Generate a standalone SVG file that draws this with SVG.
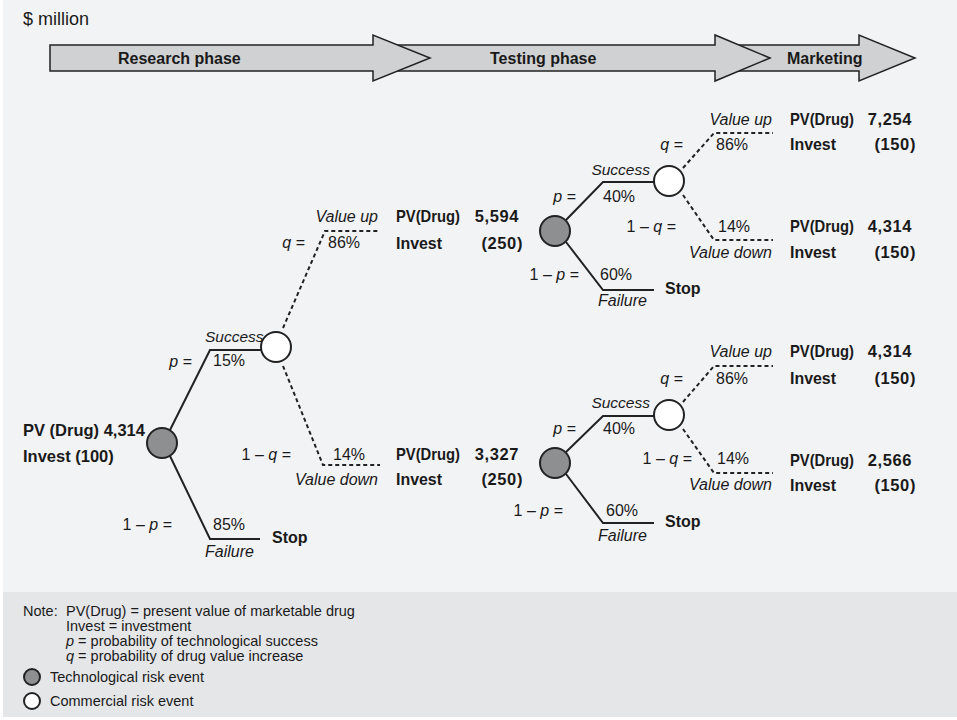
<svg xmlns="http://www.w3.org/2000/svg" width="957" height="720" viewBox="0 0 957 720">
<style>
text{font-family:"Liberation Sans",Arial,sans-serif;fill:#1a1a1a;font-size:16px}
.b{font-weight:bold;font-size:16.5px}
.st{font-weight:bold;font-size:16px}
.h{font-weight:bold;font-size:16px}
.rt{font-weight:bold;font-size:16.5px}
.v{font-weight:bold;font-size:16.5px;letter-spacing:0.6px}
.i{font-style:italic;font-size:16px}
.sc{font-style:italic;font-size:15.5px}
.q{font-size:16px}
.r{text-anchor:end}
.n{font-size:14.5px}
.arr{fill:#d0d1d3;stroke:#222;stroke-width:1.5;stroke-linejoin:miter}
.s{fill:none;stroke:#222;stroke-width:2}
.d{fill:none;stroke:#222;stroke-width:2;stroke-dasharray:4 3}
.tech{fill:#8e8f91;stroke:#222;stroke-width:2}
.com{fill:#fff;stroke:#222;stroke-width:2}
</style>
<rect x="0" y="0" width="957" height="720" fill="#fff"/>
<rect x="3" y="0" width="954" height="592" fill="#f2f3f5"/>
<rect x="3" y="592" width="954" height="125" fill="#e5e6e8"/>
<text x="23" y="25" style="font-size:18px">$ million</text>
<g id="phases">
<polygon class="arr" points="722,45 859,45 859,35 915,58 859,81 859,71 722,71"/>
<polygon class="arr" points="380,45 715,45 715,35 770,58 715,81 715,71 380,71"/>
<polygon class="arr" points="50,45 373,45 373,35 430,58 373,81 373,71 50,71"/>
<text class="h" x="118" y="64">Research phase</text>
<text class="h" x="490" y="64">Testing phase</text>
<text class="h" x="787" y="64">Marketing</text>
</g>
<g id="connectors">
<polyline class="s" points="170,430 210,350 261,350"/>
<polyline class="s" points="170,456 210,539 260,539"/>
<polyline class="d" points="283,328 325,231 380,231"/>
<polyline class="d" points="283,366 323,465 380,465"/>
<polyline class="s" points="566,220 603,182 654,182"/>
<polyline class="s" points="566,242 603,290 654,290"/>
<polyline class="d" points="683,168 714,133 773,133"/>
<polyline class="d" points="683,195 714,240 773,240"/>
<polyline class="s" points="566,452 603,416 654,416"/>
<polyline class="s" points="566,474 603,523 654,523"/>
<polyline class="d" points="683,402 714,366 773,366"/>
<polyline class="d" points="683,429 714,473 773,473"/>
</g>
<g id="root">
<circle class="tech" cx="162" cy="443" r="15"/>
<text class="rt" x="23" y="436">PV (Drug) 4,314</text>
<text class="rt" x="23" y="462">Invest (100)</text>
<text class="sc" x="205" y="342">Success</text>
<text x="213" y="366">15%</text>
<text class="r q" x="192" y="367"><tspan style="font-style:italic">p</tspan> =</text>
<text class="r q" x="172" y="530">1 – <tspan style="font-style:italic">p</tspan> =</text>
<text x="213" y="530">85%</text>
<text class="i" x="205" y="557">Failure</text>
<text class="st" x="272" y="543">Stop</text>
</g>
<g id="c1">
<circle class="com" cx="276" cy="347" r="15"/>
<text class="i r" x="378" y="222">Value up</text>
<text class="r q" x="305" y="248"><tspan style="font-style:italic">q</tspan> =</text>
<text x="328" y="248">86%</text>
<text class="r q" x="291" y="460">1 – <tspan style="font-style:italic">q</tspan> =</text>
<text x="333" y="460">14%</text>
<text class="i r" x="378" y="485">Value down</text>
</g>
<g id="out1">
<text class="b" x="396" y="222" textLength="64" lengthAdjust="spacingAndGlyphs">PV(Drug)</text>
<text class="v r" x="519" y="222">5,594</text>
<text class="b" x="396" y="249" textLength="46" lengthAdjust="spacingAndGlyphs">Invest</text>
<text class="v r" x="523" y="249">(250)</text>
</g>
<g id="out2">
<text class="b" x="396" y="460" textLength="64" lengthAdjust="spacingAndGlyphs">PV(Drug)</text>
<text class="v r" x="519" y="460">3,327</text>
<text class="b" x="396" y="485" textLength="46" lengthAdjust="spacingAndGlyphs">Invest</text>
<text class="v r" x="523" y="485">(250)</text>
</g>
<g id="t2">
<circle class="tech" cx="555" cy="231" r="15"/>
<text class="sc r" x="650" y="175">Success</text>
<text x="603" y="202">40%</text>
<text class="r q" x="576" y="202"><tspan style="font-style:italic">p</tspan> =</text>
<text class="r q" x="579" y="280">1 – <tspan style="font-style:italic">p</tspan> =</text>
<text x="600" y="280">60%</text>
<text class="i" x="598" y="306">Failure</text>
<text class="st" x="665" y="294">Stop</text>
</g>
<g id="c2">
<circle class="com" cx="669" cy="181" r="15"/>
<text class="i r" x="772" y="125">Value up</text>
<text class="r q" x="683" y="150"><tspan style="font-style:italic">q</tspan> =</text>
<text x="716" y="150">86%</text>
<text class="r q" x="676" y="232">1 – <tspan style="font-style:italic">q</tspan> =</text>
<text x="718" y="232">14%</text>
<text class="i r" x="772" y="258">Value down</text>
</g>
<g id="out3">
<text class="b" x="790" y="125" textLength="64" lengthAdjust="spacingAndGlyphs">PV(Drug)</text>
<text class="v r" x="912" y="125">7,254</text>
<text class="b" x="790" y="150" textLength="46" lengthAdjust="spacingAndGlyphs">Invest</text>
<text class="v r" x="916" y="150">(150)</text>
</g>
<g id="out4">
<text class="b" x="790" y="232" textLength="64" lengthAdjust="spacingAndGlyphs">PV(Drug)</text>
<text class="v r" x="912" y="232">4,314</text>
<text class="b" x="790" y="258" textLength="46" lengthAdjust="spacingAndGlyphs">Invest</text>
<text class="v r" x="916" y="258">(150)</text>
</g>
<g id="t3">
<circle class="tech" cx="555" cy="463" r="15"/>
<text class="sc r" x="650" y="408">Success</text>
<text x="603" y="434">40%</text>
<text class="r q" x="576" y="434"><tspan style="font-style:italic">p</tspan> =</text>
<text class="r q" x="563" y="516">1 – <tspan style="font-style:italic">p</tspan> =</text>
<text x="606" y="516">60%</text>
<text class="i" x="598" y="541">Failure</text>
<text class="st" x="665" y="527">Stop</text>
</g>
<g id="c3">
<circle class="com" cx="669" cy="415" r="15"/>
<text class="i r" x="772" y="357">Value up</text>
<text class="r q" x="683" y="384"><tspan style="font-style:italic">q</tspan> =</text>
<text x="716" y="384">86%</text>
<text class="r q" x="692" y="464">1 – <tspan style="font-style:italic">q</tspan> =</text>
<text x="717" y="464">14%</text>
<text class="i r" x="772" y="490">Value down</text>
</g>
<g id="out5">
<text class="b" x="790" y="357" textLength="64" lengthAdjust="spacingAndGlyphs">PV(Drug)</text>
<text class="v r" x="912" y="357">4,314</text>
<text class="b" x="790" y="384" textLength="46" lengthAdjust="spacingAndGlyphs">Invest</text>
<text class="v r" x="916" y="384">(150)</text>
</g>
<g id="out6">
<text class="b" x="790" y="466" textLength="64" lengthAdjust="spacingAndGlyphs">PV(Drug)</text>
<text class="v r" x="912" y="466">2,566</text>
<text class="b" x="790" y="491" textLength="46" lengthAdjust="spacingAndGlyphs">Invest</text>
<text class="v r" x="916" y="491">(150)</text>
</g>
<g id="note">
<text class="n" x="23" y="616">Note:</text>
<text class="n" x="66" y="616">PV(Drug) = present value of marketable drug</text>
<text class="n" x="66" y="631">Invest = investment</text>
<text class="n" x="66" y="646"><tspan style="font-style:italic">p</tspan> = probability of technological success</text>
<text class="n" x="66" y="661"><tspan style="font-style:italic">q</tspan> = probability of drug value increase</text>
<circle class="tech" cx="32" cy="677" r="8"/>
<text class="n" x="50" y="682">Technological risk event</text>
<circle class="com" cx="32" cy="701" r="8"/>
<text class="n" x="50" y="706">Commercial risk event</text>
</g>
</svg>
